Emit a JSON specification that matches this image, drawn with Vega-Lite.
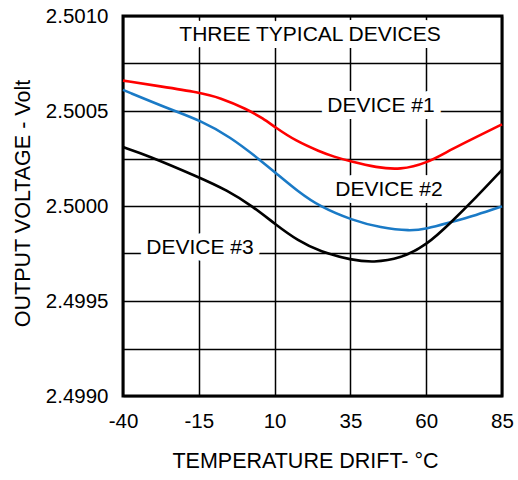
{
  "$schema": "https://vega.github.io/schema/vega-lite/v6.json",
  "width": 379,
  "height": 380,
  "autosize": {"type": "none"},
  "padding": {"left": 123, "top": 16, "right": 16, "bottom": 84},
  "background": "white",
  "config": {
    "view": {"stroke": "black", "strokeWidth": 3},
    "font": "Liberation Sans",
    "axis": {
      "grid": true, "gridColor": "black", "gridWidth": 1.5, "gridOpacity": 1,
      "domain": false, "ticks": false, "labelFlush": false,
      "labelFont": "Liberation Sans", "labelFontSize": 20.5, "labelColor": "black",
      "titleFont": "Liberation Sans", "titleFontSize": 21.5, "titleFontWeight": "normal", "titleColor": "black"
    }
  },
  "datasets": {
    "curves": [
      {"device": "DEVICE #1", "temp": -40, "volt": 2.500660},
      {"device": "DEVICE #1", "temp": -27.8, "volt": 2.500630},
      {"device": "DEVICE #1", "temp": -14.9, "volt": 2.500598},
      {"device": "DEVICE #1", "temp": -8.0, "volt": 2.500570},
      {"device": "DEVICE #1", "temp": 0.8, "volt": 2.500510},
      {"device": "DEVICE #1", "temp": 6.3, "volt": 2.500460},
      {"device": "DEVICE #1", "temp": 10.1, "volt": 2.500415},
      {"device": "DEVICE #1", "temp": 17, "volt": 2.500342},
      {"device": "DEVICE #1", "temp": 25.0, "volt": 2.500286},
      {"device": "DEVICE #1", "temp": 29.4, "volt": 2.500260},
      {"device": "DEVICE #1", "temp": 35.4, "volt": 2.500233},
      {"device": "DEVICE #1", "temp": 43.5, "volt": 2.500203},
      {"device": "DEVICE #1", "temp": 51.4, "volt": 2.500190},
      {"device": "DEVICE #1", "temp": 60.2, "volt": 2.500225},
      {"device": "DEVICE #1", "temp": 67.9, "volt": 2.500295},
      {"device": "DEVICE #1", "temp": 76.7, "volt": 2.500365},
      {"device": "DEVICE #1", "temp": 85, "volt": 2.500430},
      {"device": "DEVICE #2", "temp": -40, "volt": 2.500611},
      {"device": "DEVICE #2", "temp": -23.4, "volt": 2.500502},
      {"device": "DEVICE #2", "temp": -14.9, "volt": 2.500453},
      {"device": "DEVICE #2", "temp": -4.7, "volt": 2.500365},
      {"device": "DEVICE #2", "temp": 5.2, "volt": 2.500242},
      {"device": "DEVICE #2", "temp": 10.1, "volt": 2.500178},
      {"device": "DEVICE #2", "temp": 17.8, "volt": 2.500075},
      {"device": "DEVICE #2", "temp": 25, "volt": 2.499996},
      {"device": "DEVICE #2", "temp": 35.4, "volt": 2.499926},
      {"device": "DEVICE #2", "temp": 45, "volt": 2.499885},
      {"device": "DEVICE #2", "temp": 54.7, "volt": 2.499868},
      {"device": "DEVICE #2", "temp": 60.2, "volt": 2.499880},
      {"device": "DEVICE #2", "temp": 66.8, "volt": 2.499909},
      {"device": "DEVICE #2", "temp": 76.7, "volt": 2.499953},
      {"device": "DEVICE #2", "temp": 85, "volt": 2.499998},
      {"device": "DEVICE #3", "temp": -40, "volt": 2.500310},
      {"device": "DEVICE #3", "temp": -32.2, "volt": 2.500268},
      {"device": "DEVICE #3", "temp": -14.9, "volt": 2.500151},
      {"device": "DEVICE #3", "temp": -5.8, "volt": 2.500084},
      {"device": "DEVICE #3", "temp": 3.0, "volt": 2.499996},
      {"device": "DEVICE #3", "temp": 10.1, "volt": 2.499905},
      {"device": "DEVICE #3", "temp": 17.8, "volt": 2.499816},
      {"device": "DEVICE #3", "temp": 25, "volt": 2.499760},
      {"device": "DEVICE #3", "temp": 35.4, "volt": 2.499715},
      {"device": "DEVICE #3", "temp": 42.6, "volt": 2.499703},
      {"device": "DEVICE #3", "temp": 51.4, "volt": 2.499722},
      {"device": "DEVICE #3", "temp": 60.2, "volt": 2.499795},
      {"device": "DEVICE #3", "temp": 67.9, "volt": 2.499909},
      {"device": "DEVICE #3", "temp": 76.7, "volt": 2.500049},
      {"device": "DEVICE #3", "temp": 85, "volt": 2.500190}
    ],
    "labels": [
      {"label": "THREE TYPICAL DEVICES", "temp": 21.7, "volt": 2.50090},
      {"label": "DEVICE #1", "temp": 45.1, "volt": 2.500526},
      {"label": "DEVICE #2", "temp": 47.7, "volt": 2.500084},
      {"label": "DEVICE #3", "temp": -14.6, "volt": 2.499779}
    ]
  },
  "encoding": {
    "x": {
      "field": "temp", "type": "quantitative",
      "scale": {"domain": [-40, 85], "nice": false, "zero": false},
      "axis": {
        "values": [-40, -15, 10, 35, 60, 85],
        "labelExpr": "datum.value < 0 ? '-' + abs(datum.value) : '' + datum.value",
        "labelPadding": 15,
        "title": "TEMPERATURE DRIFT- °C",
        "titleX": 182, "titleY": 65, "titleBaseline": "middle", "titleAnchor": "middle"
      }
    },
    "y": {
      "field": "volt", "type": "quantitative",
      "scale": {"domain": [2.499, 2.501], "nice": false, "zero": false},
      "axis": {
        "values": [2.499, 2.49925, 2.4995, 2.49975, 2.5, 2.50025, 2.5005, 2.50075, 2.501],
        "labelExpr": "(round(datum.value*100000) % 50 == 0) ? format(datum.value, '.4f') : ''",
        "labelPadding": 15,
        "title": "OUTPUT VOLTAGE - Volt",
        "titleX": -100, "titleY": 187, "titleBaseline": "middle", "titleAnchor": "middle"
      }
    }
  },
  "layer": [
    {
      "data": {"name": "curves"},
      "mark": {"type": "line", "strokeWidth": 2.6, "interpolate": "basis"},
      "encoding": {
        "color": {
          "field": "device", "type": "nominal",
          "scale": {"domain": ["DEVICE #1", "DEVICE #2", "DEVICE #3"], "range": ["#ff0000", "#1a7ac6", "#000000"]},
          "legend": null
        }
      }
    },
    {
      "data": {"name": "labels"},
      "mark": {"type": "text", "fontSize": 21, "font": "Liberation Sans", "fill": "white", "stroke": "white", "strokeWidth": 14, "strokeJoin": "round", "baseline": "middle", "align": "center"},
      "encoding": {"text": {"field": "label"}}
    },
    {
      "data": {"name": "labels"},
      "mark": {"type": "text", "fontSize": 21, "font": "Liberation Sans", "fill": "black", "baseline": "middle", "align": "center"},
      "encoding": {"text": {"field": "label"}}
    }
  ]
}
